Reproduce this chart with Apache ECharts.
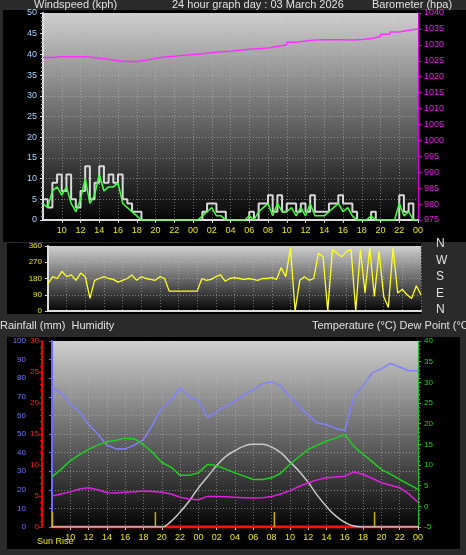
<!DOCTYPE html>
<html><head><meta charset="utf-8">
<script src="https://cdn.jsdelivr.net/npm/echarts@6/dist/echarts.min.js"></script>
<style>html,body{margin:0;padding:0;background:#2a2a2a}#c{width:466px;height:555px}</style>
</head><body><div id="c"></div>
<script>
// hours from 08:00 day 1 (0..40)
const gust = [5,3,9,11,7,11,5,3,7,13,5,9, 13,9,11,9,11,5,4,2,2,0,0,0, 0,0,0,0,0,0,0,0,0,0,2,4, 4,2,2,0,0,0,0,0,2,0,4,4, 6,2,6,2,4,4,2,4,2,6,2,2, 2,4,4,6,4,4,2,0,0,0,2,0, 0,0,0,0,6,2,4,0,0];
const windAvg = [4,3,7,8,6,8,4,2,5,10,4,6, 11,7,8,8,9,4,3,2,1,0,0,0, 0,0,0,0,0,0,0,0,0,0,1,2, 3,1,1,0,0,0,0,0,1,0,2,3, 4,1,4,2,2,3,1,3,1,4,1,1, 1,2,3,4,2,3,1,0,0,0,1,0, 0,0,0,0,4,1,2,0,0];
const windDir = [150,190,180,220,190,200,170,210,190,70,170,180, 190,180,175,160,170,180,200,170,190,180,175,170, 190,180,110,110,110,110,110,110,110,180,170,175, 190,200,165,180,185,180,175,180,175,170,180,180, 185,175,240,190,350,0,170,190,170,180,320,300, 0,340,320,300,330,340,0,340,100,350,80,330, 80,20,350,100,120,90,70,140,90];
const pressure = [1026,1026.3,1026.3,1026.3,1026.2,1025.8,1025.5,1025,1024.8,1024.8,1025.2,1025.8,1026.2,1026.4,1026.7,1027,1027.2,1027.5,1027.8,1028,1028.3,1028.6,1028.8,1029,1029.5,1030,1030.8,1031.2,1031.5,1031.6,1031.6,1031.6,1031.5,1031.7,1032,1032.6,1033.3,1034,1034.6,1035,1035.3];
const humidity = [75,72,66,62,55,50,44,42,42,44,47,55,64,68,75,70,68,59,62,65,68,71,74,77,78,76,70,65,60,56,55,53,52,70,76,83,85,88,86,84,84];
const temperature = [7.1,9,11,12.5,13.8,14.8,15.6,16,16.5,16.3,14.9,13,10.6,9.5,7.5,7.5,8.1,10.2,9.8,9,8.1,7.3,6.5,6.5,6.9,8,10.2,12,13.8,14.8,15.8,16.5,17.4,14.5,12.6,10.8,8.9,7.8,6.5,5.3,4.1];
const dewPoint = [2.5,3,3.5,4.2,4.5,4,3.3,3.2,3.4,3.5,3.7,3.6,3.4,3,2.2,1.8,1.6,2.4,2.4,2.3,2.2,2.1,2.0,2.1,2.4,3,3.8,4.8,5.7,6.4,6.9,7.1,7.3,8.3,7.7,6.8,5.7,5.1,4.5,3,1.0];
const solar = [0,0,0,0,0,0,0,0,0,0,0,0,0,3,8,14,21,27,33,38,41,43.5,44.5,44.5,43,40,35,30,24,17,11,6,2.5,0.5,0,0,0,0,0,0,0];
const rainfall = [0,0,0,0,0,0,0,0,0,0,0,0,0,0,0,0,0,0,0,0,0,0,0,0,0,0,0,0,0,0,0,0,0,0,0,0,0,0,0,0,0];
const sunEvents = [0.05, 11.3, 24.3, 35.25];
const rangeHours = 40, startHour = 8;

const half = a => a.map((v,i)=>[i*0.5,v]);
const hourly = a => a.map((v,i)=>[i,v]);
const fmt = v => String((startHour+v)%24).padStart(2,'0');
const plain = v => String(v);
const dotted = {show:true,lineStyle:{color:'rgba(190,190,190,0.55)',type:[1,2],width:1}};
const bg = {type:'linear',x:0,y:0,x2:0,y2:1,colorStops:[{offset:0,color:'#cfcfcf'},{offset:0.5,color:'#6a6a6a'},{offset:1,color:'#050505'}]};
function xa(gi, show){return {type:'value',gridIndex:gi,min:0,max:rangeHours,interval:2,
  axisLine:{show:true,lineStyle:{color:'#ddd',width:2}},axisTick:{show:show,length:3,lineStyle:{color:'#ccc'}},
  splitLine:dotted,axisLabel:{show:show,color:'#e8e800',fontSize:9,showMinLabel:false,margin:6,formatter:fmt}};}
const ch = echarts.init(document.getElementById('c'));
ch.setOption({
 backgroundColor:'#2a2a2a', animation:false,
 graphic:[
  {type:'rect',shape:{x:3,y:10,width:463,height:232},style:{fill:'#000'},z:-10},
  {type:'rect',shape:{x:7,y:243,width:414,height:71},style:{fill:'#000'},z:-10},
  {type:'rect',shape:{x:7,y:337,width:453,height:212},style:{fill:'#000'},z:-10},
  {type:'text',left:34,top:-1,style:{text:'Windspeed (kph)',fill:'#e0e0e0',font:'11px "Liberation Sans"'}},
  {type:'text',left:172,top:-1,style:{text:'24 hour graph day : 03 March 2026',fill:'#e0e0e0',font:'11px "Liberation Sans"'}},
  {type:'text',left:372,top:-1,style:{text:'Barometer (hpa)',fill:'#e0e0e0',font:'11px "Liberation Sans"'}},
  {type:'text',left:0,top:320,style:{text:'Rainfall (mm)  Humidity',fill:'#e0e0e0',font:'11px "Liberation Sans"'}},
  {type:'text',left:312,top:320,style:{text:'Temperature (°C) Dew Point (°C)',fill:'#e0e0e0',font:'11px "Liberation Sans"'}},
  {type:'text',left:37,top:537,style:{text:'Sun Rise',fill:'#e8e800',font:'9px "Liberation Sans"'}},
  ...['N','W','S','E','N'].map((t,i)=>({type:'text',left:436,top:238+i*16.5,style:{text:t,fill:'#e0e0e0',font:'12px "Liberation Sans"'}}))
 ],
 grid:[
  {left:43,right:48,top:13,height:207,show:true,backgroundColor:bg,borderWidth:0},
  {left:48,right:45,top:246,height:65,show:true,backgroundColor:bg,borderWidth:0},
  {left:52,right:48,top:341,height:186,show:true,backgroundColor:bg,borderWidth:0}
 ],
 xAxis:[xa(0,true),xa(1,false),xa(2,true)],
 yAxis:[
  {type:'value',gridIndex:0,position:'left',min:0,max:50,interval:5,axisLine:{show:true,lineStyle:{color:'#ddd',width:2}},axisTick:{show:true,length:3},minorTick:{show:true,splitNumber:5,length:2,lineStyle:{color:'#aaa'}},splitLine:dotted,axisLabel:{color:'#a8d0ff',fontSize:9,margin:6}},
  {type:'value',gridIndex:0,position:'right',min:975,max:1040,interval:5,axisLine:{show:true,lineStyle:{color:'#d0d',width:1}},axisTick:{show:true,length:3,lineStyle:{color:'#d0d'}},splitLine:{show:false},axisLabel:{color:'#e020e0',fontSize:9,margin:6,formatter:plain}},
  {type:'value',gridIndex:1,position:'left',min:0,max:360,interval:90,axisLine:{show:true,lineStyle:{color:'#ddd',width:2}},axisTick:{show:true,length:3},splitLine:dotted,axisLabel:{color:'#e8e800',fontSize:8,margin:6}},
  {type:'value',gridIndex:2,position:'left',min:0,max:100,interval:10,offset:22,axisLine:{show:true,lineStyle:{color:'#6a6aff',width:2}},axisTick:{show:true,length:3},splitLine:dotted,axisLabel:{color:'#7878ff',fontSize:8,margin:4}},
  {type:'value',gridIndex:2,position:'left',min:0,max:30,interval:5,offset:10,axisLine:{show:true,lineStyle:{color:'#e00',width:2}},axisTick:{show:true,length:3},minorTick:{show:true,splitNumber:5,length:2,lineStyle:{color:'#e00'}},splitLine:{show:false},axisLabel:{color:'#ff2020',fontSize:8,margin:3}},
  {type:'value',gridIndex:2,position:'right',min:-5,max:40,interval:5,axisLine:{show:true,lineStyle:{color:'#20c020',width:1}},axisTick:{show:true,length:3},minorTick:{show:true,splitNumber:5,length:2,lineStyle:{color:'#20c020'}},splitLine:{show:false},axisLabel:{color:'#20d020',fontSize:8,margin:6}}
 ],
 series:[
  {type:'line',xAxisIndex:0,yAxisIndex:0,data:half(gust),step:'end',symbol:'none',lineStyle:{color:'#d8d8d8',width:2}},
  {type:'line',xAxisIndex:0,yAxisIndex:0,data:half(windAvg),symbol:'none',lineStyle:{color:'#40ff40',width:1.5}},
  {type:'line',xAxisIndex:0,yAxisIndex:1,data:hourly(pressure),step:'end',symbol:'none',lineStyle:{color:'#ff30ff',width:1.5}},
  {type:'line',xAxisIndex:1,yAxisIndex:2,data:half(windDir),symbol:'none',lineStyle:{color:'#ffff20',width:1.3}},
  {type:'line',xAxisIndex:2,yAxisIndex:4,data:hourly(rainfall),symbol:'none',lineStyle:{color:'#ff1010',width:3},z:1},
  {type:'bar',xAxisIndex:2,yAxisIndex:3,data:sunEvents.map(h=>[h,8]),barWidth:1.5,itemStyle:{color:'#c8b400'}},
  {type:'line',xAxisIndex:2,yAxisIndex:3,data:hourly(solar),smooth:true,symbol:'none',lineStyle:{color:'#c8c8c8',width:1.5}},
  {type:'line',xAxisIndex:2,yAxisIndex:3,data:hourly(humidity),symbol:'none',lineStyle:{color:'#8080ff',width:1.5}},
  {type:'line',xAxisIndex:2,yAxisIndex:5,data:hourly(temperature),symbol:'none',lineStyle:{color:'#20d020',width:1.5}},
  {type:'line',xAxisIndex:2,yAxisIndex:5,data:hourly(dewPoint),symbol:'none',lineStyle:{color:'#e020e0',width:1.5}}
 ]
});
</script></body></html>
